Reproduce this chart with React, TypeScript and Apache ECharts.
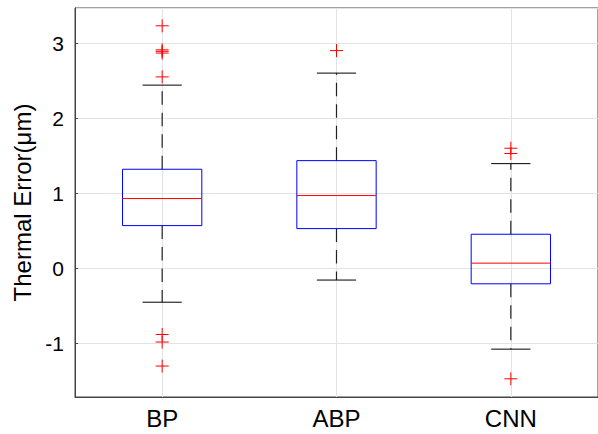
import React, { useEffect, useRef } from "react";
import * as echarts from "echarts";

const categories = ["BP", "ABP", "CNN"];
const lowerWhisker = [-0.45, -0.155, -1.075];
const q1Values = [0.57, 0.53, -0.205];
const medianValues = [0.93, 0.97, 0.07];
const q3Values = [1.32, 1.435, 0.455];
const upperWhisker = [2.44, 2.6, 1.395];
const outliersBP = [3.23, 2.91, 2.89, 2.867, 2.55, -0.88, -0.98, -1.3];
const outliersABP = [2.9];
const outliersCNN = [1.6, 1.53, -1.47];
const yTickLabels = ["-1", "0", "1", "2", "3"];

const FONT = "Arial, 'Liberation Sans', Helvetica, sans-serif";

export default function App() {
  const ref = useRef<HTMLDivElement>(null);
  useEffect(() => {
    if (!ref.current) return;
    const chart = echarts.init(ref.current, undefined, { renderer: "svg" });
    const boxData = categories.map((_, i) => [
      i + 1,
      lowerWhisker[i],
      q1Values[i],
      medianValues[i],
      q3Values[i],
      upperWhisker[i],
    ]);
    const outlierData: number[][] = [];
    [outliersBP, outliersABP, outliersCNN].forEach((arr, i) =>
      arr.forEach((v) => outlierData.push([i + 1, v]))
    );
    chart.setOption({
      animation: false,
      backgroundColor: "#ffffff",
      grid: {
        left: 75,
        top: 8,
        right: -9,
        bottom: 37,
        show: true,
        borderColor: "#444444",
        borderWidth: 1,
        backgroundColor: "#ffffff",
      },
      xAxis: {
        type: "value",
        min: 0.5,
        max: 3.5,
        splitNumber: 3,
        axisLine: { show: true, onZero: false, lineStyle: { color: "#444444", width: 1 } },
        axisTick: { show: false },
        splitLine: { show: true, lineStyle: { color: "#e3e3e3", width: 1 } },
        axisLabel: {
          color: "#000000",
          fontFamily: FONT,
          fontSize: 24,
          margin: 9,
          showMinLabel: false,
          showMaxLabel: false,
          formatter: (v: number) =>
            Number.isInteger(v) ? categories[v - 1] ?? "" : "",
        },
      },
      yAxis: {
        type: "value",
        min: -1.712,
        max: 3.467,
        splitNumber: 5,
        name: "Thermal Error(μm)",
        nameLocation: "middle",
        nameGap: 40,
        nameTextStyle: { color: "#000000", fontFamily: FONT, fontSize: 24 },
        axisLine: { show: true, onZero: false, lineStyle: { color: "#444444", width: 1 } },
        axisTick: {
          show: true,
          inside: true,
          length: 3,
          lineStyle: { color: "#444444" },
        },
        splitLine: { show: true, lineStyle: { color: "#e3e3e3", width: 1 } },
        axisLabel: {
          color: "#000000",
          fontFamily: FONT,
          fontSize: 21,
          margin: 11,
          showMinLabel: false,
          showMaxLabel: false,
          formatter: (v: number) => {
            const r = Math.round(v);
            if (Math.abs(v - r) > 1e-6) return "";
            const s = String(r);
            return yTickLabels.includes(s) ? s : "";
          },
        },
      },
      series: [
        {
          type: "custom",
          data: boxData,
          encode: { x: 0, y: [1, 2, 3, 4, 5] },
          z: 5,
          renderItem: (params: any, api: any) => {
            const x = api.value(0);
            const lo = api.value(1);
            const q1 = api.value(2);
            const med = api.value(3);
            const q3 = api.value(4);
            const hi = api.value(5);
            const unit = api.size([1, 0])[0];
            const bw = unit * 0.455;
            const cw = unit * 0.225;
            const pLo = api.coord([x, lo]);
            const pQ1 = api.coord([x, q1]);
            const pMed = api.coord([x, med]);
            const pQ3 = api.coord([x, q3]);
            const pHi = api.coord([x, hi]);
            const cx = pMed[0];
            const dash = { stroke: "#222222", lineWidth: 1.2, lineDash: [13.5, 8] };
            const solid = { stroke: "#000000", lineWidth: 1 };
            return {
              type: "group",
              children: [
                {
                  type: "line",
                  shape: { x1: cx, y1: pQ3[1], x2: cx, y2: pHi[1] },
                  style: dash,
                },
                {
                  type: "line",
                  shape: { x1: cx, y1: pQ1[1], x2: cx, y2: pLo[1] },
                  style: dash,
                },
                {
                  type: "line",
                  shape: { x1: cx - cw / 2, y1: pHi[1], x2: cx + cw / 2, y2: pHi[1] },
                  style: solid,
                },
                {
                  type: "line",
                  shape: { x1: cx - cw / 2, y1: pLo[1], x2: cx + cw / 2, y2: pLo[1] },
                  style: solid,
                },
                {
                  type: "rect",
                  shape: {
                    x: cx - bw / 2,
                    y: pQ3[1],
                    width: bw,
                    height: pQ1[1] - pQ3[1],
                  },
                  style: { fill: "none", stroke: "#0000ff", lineWidth: 1 },
                },
                {
                  type: "line",
                  shape: { x1: cx - bw / 2, y1: pMed[1], x2: cx + bw / 2, y2: pMed[1] },
                  style: { stroke: "#ff0000", lineWidth: 1 },
                },
              ],
            };
          },
        },
        {
          type: "custom",
          data: outlierData,
          encode: { x: 0, y: 1 },
          z: 6,
          renderItem: (params: any, api: any) => {
            const p = api.coord([api.value(0), api.value(1)]);
            const h = 6.5;
            const st = { stroke: "#ff0000", lineWidth: 1 };
            return {
              type: "group",
              children: [
                {
                  type: "line",
                  shape: { x1: p[0] - h, y1: p[1], x2: p[0] + h, y2: p[1] },
                  style: st,
                },
                {
                  type: "line",
                  shape: { x1: p[0], y1: p[1] - h, x2: p[0], y2: p[1] + h },
                  style: st,
                },
              ],
            };
          },
        },
      ],
    });
    return () => chart.dispose();
  }, []);
  return (
    <div
      ref={ref}
      style={{ position: "fixed", left: 0, top: 0, width: 598, height: 434 }}
    />
  );
}
